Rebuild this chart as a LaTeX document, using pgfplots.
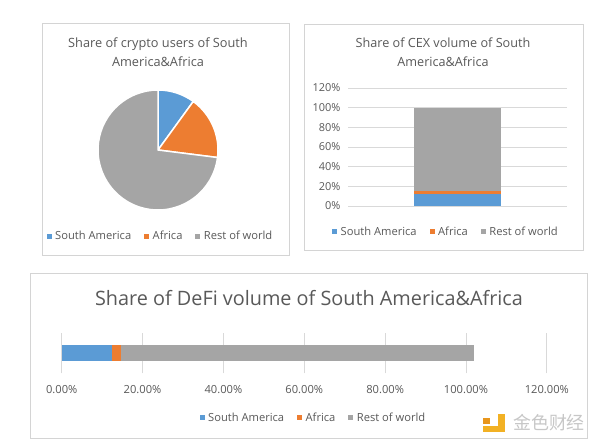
\documentclass[border=0pt]{standalone}
\usepackage{fontspec}
\setmainfont{Open Sans}
\newfontfamily\cjk{Noto Sans CJK SC}
\usepackage{pgfplots}
\pgfplotsset{compat=1.18}
\definecolor{sa}{HTML}{5B9BD5}
\definecolor{af}{HTML}{ED7D31}
\definecolor{rw}{HTML}{A5A5A5}
\definecolor{txt}{HTML}{595959}
\definecolor{grd}{HTML}{D9D9D9}
\definecolor{brd}{HTML}{D4D4D4}
\definecolor{gold}{HTML}{F2B124}
\definecolor{goldd}{HTML}{E8961C}
\pgfplotsset{
  mylegend/.style={
    legend image code/.code={\fill[##1] (0bp,-2.5bp) rectangle (5bp,2.5bp); \path (7.5bp,0bp);},
    legend columns=3,
    legend style={draw=none, fill=none, inner sep=0pt, text=txt,
      font=\fontsize{11.2}{13}\selectfont,
      /tikz/every even column/.append style={column sep=12bp},
      nodes={inner xsep=1bp, inner ysep=1bp}},
  },
}
\begin{document}
\begin{tikzpicture}[x=1bp,y=1bp]
\path[use as bounding box, fill=white] (0,0) rectangle (600,445);
% panel frames
\draw[brd, line width=0.8bp] (42,190) rectangle (289,422);
\draw[brd, line width=0.8bp] (304,195) rectangle (583,421);
\draw[brd, line width=0.8bp] (30,7) rectangle (587,172);

% ---------- Pie: share of crypto users ----------
\node[text=txt, align=center, font=\fontsize{12.8}{19}\selectfont] at (158,392.5)
  {Share of crypto users of South\\America\&Africa};
\def\vSA{10}\def\vAF{17}\def\vRW{73}
\begin{axis}[
  at={(98bp,235bp)}, anchor=south west, scale only axis,
  width=120bp, height=120bp, hide axis,
  xmin=-1, xmax=1, ymin=-1, ymax=1,
  mylegend,
  legend style={at={(0.517,-0.22)}, anchor=center},
]
\addlegendimage{fill=sa, draw=none}
\addlegendimage{fill=af, draw=none}
\addlegendimage{fill=rw, draw=none}
\pgfmathsetmacro{\aA}{90}
\pgfmathsetmacro{\aB}{90-3.6*\vSA}
\pgfmathsetmacro{\aC}{\aB-3.6*\vAF}
\pgfmathsetmacro{\aD}{\aC-3.6*\vRW}
\fill[sa, draw=white, line width=1.5bp] (axis cs:0,0) -- ++(\aA:60bp) arc[start angle=\aA, end angle=\aB, radius=60bp] -- cycle;
\fill[af, draw=white, line width=1.5bp] (axis cs:0,0) -- ++(\aB:60bp) arc[start angle=\aB, end angle=\aC, radius=60bp] -- cycle;
\fill[rw, draw=white, line width=1.5bp] (axis cs:0,0) -- ++(\aC:60bp) arc[start angle=\aC, end angle=\aD, radius=60bp] -- cycle;
\legend{South America, Africa, Rest of world}
\end{axis}

% ---------- CEX volume ----------
\node[text=txt, align=center, font=\fontsize{12.7}{19}\selectfont] at (443,392.5)
  {Share of CEX volume of South\\America\&Africa};
\begin{axis}[
  at={(348bp,239bp)}, anchor=south west, scale only axis,
  width=219bp, height=118bp,
  ybar stacked, bar width=87bp,
  xmin=-0.5, xmax=0.5, ymin=0, ymax=120,
  xtick=\empty,
  ytick={0,20,40,60,80,100,120},
  yticklabels={0\%,20\%,40\%,60\%,80\%,100\%,120\%},
  yticklabel style={text=txt, font=\fontsize{11}{12}\selectfont, xshift=-4bp},
  axis line style={draw=none}, tick style={draw=none},
  ymajorgrids, major grid style={grd, line width=0.8bp},
  mylegend,
  legend style={at={(0.445,-0.22)}, anchor=center},
]
\addplot[fill=sa, draw=none] coordinates {(0,12.5)};
\addplot[fill=af, draw=none] coordinates {(0,3)};
\addplot[fill=rw, draw=none] coordinates {(0,84.5)};
\legend{South America, Africa, Rest of world}
\end{axis}

% ---------- DeFi volume ----------
\node[text=txt, font=\fontsize{19.9}{22}\selectfont] at (309,147)
  {Share of DeFi volume of South America\&Africa};
\begin{axis}[
  at={(61.7bp,71.7bp)}, anchor=south west, scale only axis,
  width=485.1bp, height=40.6bp,
  xbar stacked, bar width=16.7bp,
  ymin=-1, ymax=1, xmin=0, xmax=120,
  ytick=\empty,
  xtick={0,20,40,60,80,100,120},
  xticklabels={0.00\%,20.00\%,40.00\%,60.00\%,80.00\%,100.00\%,120.00\%},
  xticklabel style={text=txt, font=\fontsize{11.2}{12}\selectfont, yshift=-9bp},
  axis line style={draw=none}, tick style={draw=none},
  xmajorgrids, major grid style={grd, line width=0.8bp},
  mylegend,
  legend style={at={(0.518,-1.1)}, anchor=center},
]
\addplot[fill=sa, draw=none] coordinates {(12.4,0)};
\addplot[fill=af, draw=none] coordinates {(2.3,0)};
\addplot[fill=rw, draw=none] coordinates {(87.3,0)};
\legend{South America, Africa, Rest of world}
\end{axis}

% watermark
\fill[goldd] (483,21) rectangle (490,27);
\fill[gold] (498,13) rectangle (505,31);
\fill[gold] (483,13) rectangle (505,19);
\node[text=black!22, font=\cjk\fontsize{18}{18}\selectfont, inner sep=0pt] at (549,22) {金色财经};
\end{tikzpicture}
\end{document}
